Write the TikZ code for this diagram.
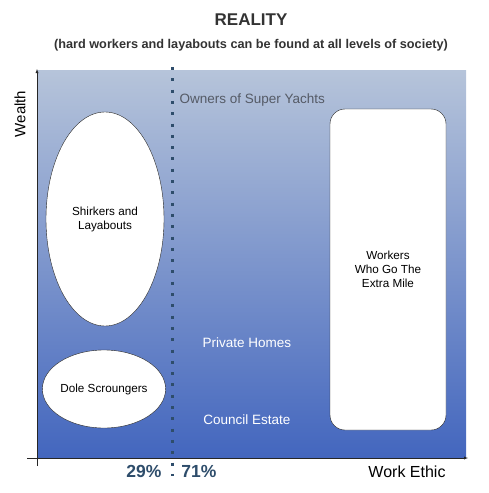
\documentclass[tikz,border=0pt]{standalone}
\usepackage{fontspec}
\setmainfont{Liberation Sans}
\usetikzlibrary{shapes.geometric}
\definecolor{skytop}{HTML}{B6C4DA}
\definecolor{skybot}{HTML}{4366BE}
\definecolor{splitcol}{HTML}{2E4D6B}
\definecolor{yachtgray}{HTML}{555B66}
\tikzset{
  blob/.style={draw=black!85,fill=white,thin,align=center,font=\fontsize{11.7}{14}\selectfont},
  level/.style={text=white,font=\fontsize{13.5}{16}\selectfont},
  share/.style={text=splitcol,font=\bfseries\fontsize{17.5}{20}\selectfont}
}
\begin{document}
\begin{tikzpicture}[x=1pt,y=-1pt]
  \useasboundingbox (0,0) rectangle (489,493);
  % background field
  \shade[top color=skytop,bottom color=skybot] (37,70) rectangle (466,458);
  % titles
  \node[font=\bfseries\fontsize{17}{20}\selectfont,text=black!80] (title) at (251,20) {REALITY};
  \node[font=\bfseries\fontsize{12.7}{15}\selectfont,text=black!80] (sub) at (251,45)
    {(hard workers and layabouts can be found at all levels of society)};
  % axes
  \coordinate (o) at (37,458);
  \coordinate (ytop) at (37,69);
  \coordinate (xend) at (468,458);
  \draw[-latex,black!85] (37,466) -- (ytop);
  \draw[-latex,black!85] (27,458) -- (xend);
  \node[rotate=90,font=\fontsize{15}{17}\selectfont] (wealth) at (20,114) {Wealth};
  \node[font=\fontsize{16}{18}\selectfont] (ethic) at (407,472) {Work Ethic};
  % 29/71 split
  \coordinate (stop) at (172,67);
  \coordinate (sbot) at (172,476);
  \draw[splitcol,line width=3pt,dash pattern=on 3pt off 8.3pt] (stop) -- (sbot);
  \node[share] (low) at (144,471) {29\%};
  \node[share] (high) at (199,471) {71\%};
  % levels of society
  \node[text=yachtgray,font=\fontsize{13.5}{16}\selectfont,anchor=west] (yachts) at (176,100) {Owners of Super Yachts};
  \node[level] (homes) at (247,343) {Private Homes};
  \node[level] (estate) at (247,420) {Council Estate};
  % groups
  \node[blob,ellipse,minimum width=118pt,minimum height=214pt,inner sep=0pt] (shirk) at (105,219)
    {Shirkers and\\Layabouts};
  \node[blob,ellipse,minimum width=118pt,minimum height=78pt,inner sep=0pt] (dole) at (104,389)
    {Dole Scroungers};
  \node[blob,rounded corners=15pt,minimum width=116pt,minimum height=321pt] (workers) at (388,269.5)
    {Workers\\Who Go The\\Extra Mile};
\end{tikzpicture}
\end{document}
